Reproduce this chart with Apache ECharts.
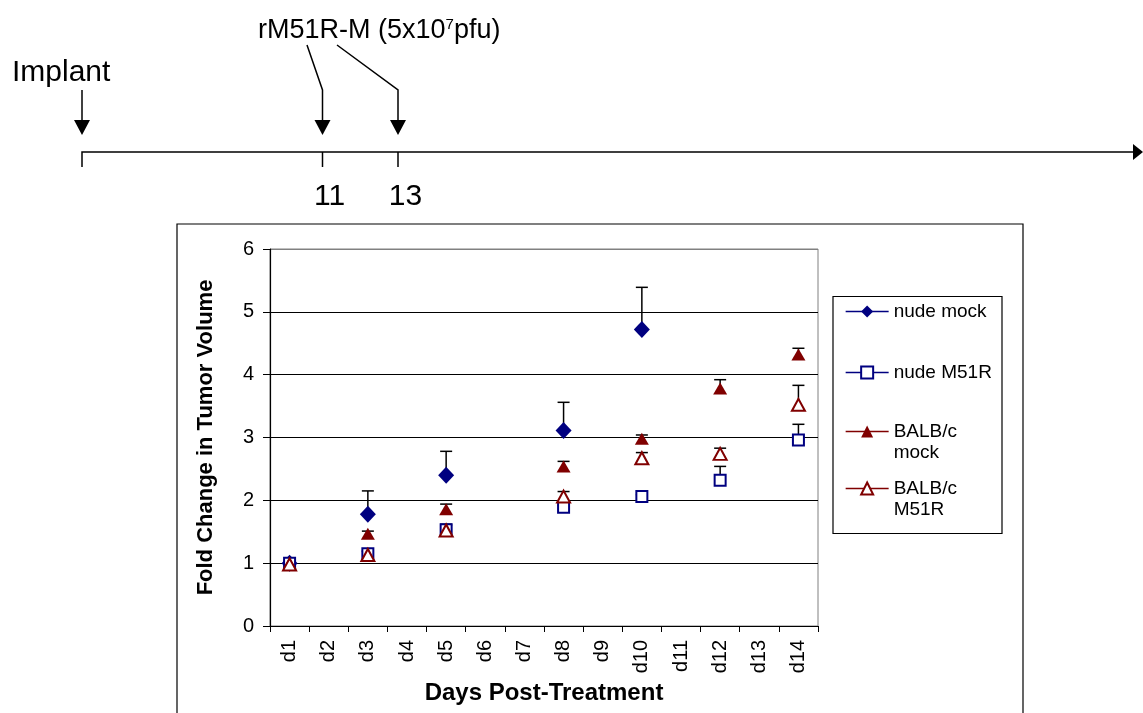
<!DOCTYPE html>
<html>
<head>
<meta charset="utf-8">
<script src="https://cdn.jsdelivr.net/npm/echarts@6/dist/echarts.min.js"></script>
<style>
html,body{margin:0;padding:0;background:#fff;}
#chart{width:1143px;height:713px;}
</style>
</head>
<body>
<div id="chart"></div>
<script>
// ---- data ----
const categories = ['d1','d2','d3','d4','d5','d6','d7','d8','d9','d10','d11','d12','d13','d14'];
const yTicks = [0,1,2,3,4,5,6];
const seriesNames = ['nude mock','nude M51R','BALB/c mock','BALB/c M51R'];
const nudeMock    = [1.00,null,1.78,null,2.40,null,null,3.11,null,4.72,null,null,null,null];
const nudeMockErr = [0.02,null,0.37,null,0.38,null,null,0.45,null,0.67,null,null,null,null];
const nudeM51R    = [1.00,null,1.15,null,1.53,null,null,1.89,null,2.06,null,2.32,null,2.96];
const nudeM51RErr = [0.02,null,0.04,null,0.09,null,null,0.03,null,0.03,null,0.22,null,0.25];
const balbMock    = [1.00,null,1.47,null,1.86,null,null,2.54,null,2.98,null,3.78,null,4.32];
const balbMockErr = [0.02,null,0.04,null,0.08,null,null,0.08,null,0.06,null,0.14,null,0.10];
const balbM51R    = [0.98,null,1.13,null,1.52,null,null,2.06,null,2.67,null,2.74,null,3.52];
const balbM51RErr = [0.02,null,0.06,null,0.08,null,null,0.08,null,0.09,null,0.09,null,0.31];
const timelineLabels = ['Implant','11','13'];
const doseLabel = 'rM51R-M (5x10{sup|7}pfu)';

// ---- build ----
const FONT = "'Liberation Sans', Arial, sans-serif";
const NAVY = '#000080', MAROON = '#800000';

function errPoints(vals, errs){
  const out = [];
  vals.forEach((v,i)=>{ if(v!=null && errs[i]!=null) out.push([i, v, v+errs[i]]); });
  return out;
}
const errData = [].concat(
  errPoints(nudeMock,nudeMockErr), errPoints(nudeM51R,nudeM51RErr),
  errPoints(balbMock,balbMockErr), errPoints(balbM51R,balbM51RErr));

const seriesDefs = [
  {name: seriesNames[0], data: nudeMock, symbol:'diamond', symbolSize:[16,17], color:NAVY, fill:NAVY, bw:0},
  {name: seriesNames[1], data: nudeM51R, symbol:'rect', symbolSize:11, color:NAVY, fill:'#fff', bw:2},
  {name: seriesNames[2], data: balbMock, symbol:'triangle', symbolSize:[14,12], color:MAROON, fill:MAROON, bw:0},
  {name: seriesNames[3], data: balbM51R, symbol:'triangle', symbolSize:[13,12], color:MAROON, fill:'#fff', bw:2}
];

const lineSeries = seriesDefs.map(d => ({
  type:'line', name:d.name, data:d.data, symbol:d.symbol, symbolSize:d.symbolSize,
  showSymbol:true, connectNulls:false, z:3, animation:false,
  lineStyle:{color:d.color, opacity:0, width:1},
  itemStyle:{color:d.fill, borderColor:d.color, borderWidth:d.bw, opacity:1},
  emphasis:{disabled:true}
}));

const errSeries = {
  type:'custom', name:'err', data:errData, z:2, animation:false, silent:true,
  renderItem:function(params, api){
    const p0 = api.coord([api.value(0), api.value(1)]);
    const p1 = api.coord([api.value(0), api.value(2)]);
    const st = {stroke:'#000', lineWidth:1.5};
    return {type:'group', children:[
      {type:'line', shape:{x1:p0[0],y1:p0[1],x2:p1[0],y2:p1[1]}, style:st},
      {type:'line', shape:{x1:p1[0]-6,y1:p1[1],x2:p1[0]+6,y2:p1[1]}, style:st}
    ]};
  }
};

const legendTops = [301, 362, 400, 457];
const legendFormats = ['{name}','{name}','\nBALB/c\nmock','\nBALB/c\nM51R'];
const legends = seriesDefs.map((d,i)=>({
  left:845, top:legendTops[i], orient:'vertical', padding:0, itemWidth:43, itemHeight:15, itemGap:5,
  selectedMode:false, formatter:legendFormats[i],
  textStyle:{fontFamily:FONT, fontSize:19, color:'#000', lineHeight:21},
  data:[{name:d.name, lineStyle:{color:d.color, width:1.3, opacity:1, type:'solid'}}]
}));

function arrowHead(x, yBase, yTip){
  return {type:'polygon', shape:{points:[[x-8,yBase],[x+8,yBase],[x,yTip]]}, style:{fill:'#000'}};
}
const stroke = {stroke:'#000', lineWidth:1.5, fill:null};
const graphics = [
  // outer chart frame
  {type:'rect', shape:{x:177, y:224, width:846, height:520}, style:{fill:null, stroke:'#000', lineWidth:1.2}, z:0},
  // legend frame
  {type:'rect', shape:{x:833, y:296.5, width:169, height:237}, style:{fill:'#fff', stroke:'#000', lineWidth:1.2}, z:0},
  // timeline
  {type:'polyline', shape:{points:[[82,167],[82,152],[1134,152]]}, style:stroke},
  {type:'polygon', shape:{points:[[1133,144],[1133,160],[1143,152]]}, style:{fill:'#000'}},
  {type:'line', shape:{x1:322.5,y1:152,x2:322.5,y2:167}, style:stroke},
  {type:'line', shape:{x1:398,y1:152,x2:398,y2:167}, style:stroke},
  // arrows
  {type:'line', shape:{x1:82,y1:90,x2:82,y2:121}, style:stroke},
  arrowHead(82,120,135),
  {type:'polyline', shape:{points:[[307,45],[322.5,90],[322.5,121]]}, style:stroke},
  arrowHead(322.5,120,135),
  {type:'polyline', shape:{points:[[337,45],[398,90],[398,121]]}, style:stroke},
  arrowHead(398,120,135),
  // texts
  {type:'text', x:12, y:72.5, style:{text:timelineLabels[0], font:'30px '+FONT, fill:'#000', textAlign:'left', textVerticalAlign:'middle'}},
  {type:'text', x:329.5, y:196.5, style:{text:timelineLabels[1], font:'30px '+FONT, fill:'#000', textAlign:'center', textVerticalAlign:'middle'}},
  {type:'text', x:405.5, y:196.5, style:{text:timelineLabels[2], font:'30px '+FONT, fill:'#000', textAlign:'center', textVerticalAlign:'middle'}},
  {type:'text', x:258, y:31, style:{text:doseLabel, font:'27px '+FONT, fill:'#000', textAlign:'left', textVerticalAlign:'middle',
     rich:{sup:{fontSize:15, fontFamily:FONT, verticalAlign:'top', fill:'#000', padding:[0,0,12,0]}}}}
];

const option = {
  backgroundColor:'#fff',
  animation:false,
  textStyle:{fontFamily:FONT},
  grid:{left:270, top:249, width:548, height:377, show:true, borderColor:'#808080', borderWidth:1, backgroundColor:'rgba(0,0,0,0)'},
  legend:legends,
  xAxis:{
    type:'category', data:categories, boundaryGap:true,
    name:'Days Post-Treatment', nameLocation:'middle', nameGap:53,
    nameTextStyle:{fontFamily:FONT, fontSize:24, fontWeight:'bold', color:'#000'},
    axisLine:{lineStyle:{color:'#000', width:1.2}},
    axisTick:{show:true, alignWithLabel:false, length:6, interval:0, lineStyle:{color:'#000'}},
    axisLabel:{rotate:90, interval:0, margin:14, fontFamily:FONT, fontSize:20, color:'#000'},
    splitLine:{show:false}
  },
  yAxis:{
    type:'value', min:yTicks[0], max:yTicks[yTicks.length-1], interval:1,
    name:'Fold Change in Tumor Volume', nameLocation:'middle', nameGap:53, nameRotate:90,
    nameTextStyle:{fontFamily:FONT, fontSize:22, fontWeight:'bold', color:'#000'},
    axisLine:{show:true, lineStyle:{color:'#000', width:1.2}},
    axisTick:{show:true, length:7, lineStyle:{color:'#000'}},
    axisLabel:{margin:16, fontFamily:FONT, fontSize:20, color:'#000'},
    splitLine:{show:true, lineStyle:{color:['#000','#000','#000','#000','#000','#000','#808080'], width:1}}
  },
  graphic:graphics,
  series:[errSeries].concat(lineSeries)
};

const chart = echarts.init(document.getElementById('chart'), null, {renderer:'canvas'});
chart.setOption(option);
</script>
</body>
</html>
